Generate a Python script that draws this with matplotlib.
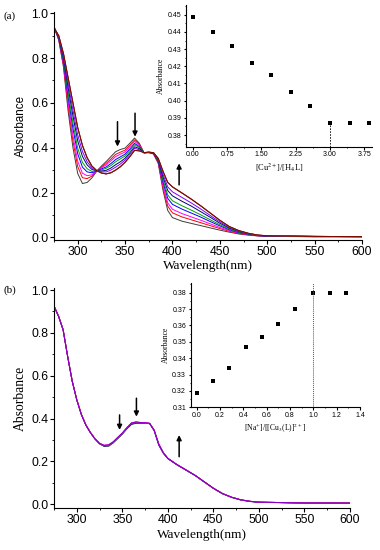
import matplotlib
matplotlib.use("Agg")
import matplotlib.pyplot as plt
from matplotlib.ticker import MultipleLocator, FormatStrFormatter

plt.rcParams['mathtext.fontset'] = 'stix'

# ---- datos ----
wl = [275, 280, 285, 290, 295, 300, 305, 310, 315, 320, 325, 330, 335, 340, 345,
      350, 355, 360, 365, 370, 375, 380, 385, 390, 395, 400, 410, 420, 430, 440,
      450, 460, 470, 480, 490, 500, 550, 600]

# (a) titulacion con Cu2+
spec_a0 = [.940, .880, .760, .560, .400, .285, .240, .245, .265, .295, .318, .338, .360, .382, .392,
           .398, .420, .443, .420, .377, .378, .372, .330, .210, .120, .088, .072, .062, .052, .042,
           .032, .023, .015, .010, .006, .004, .003, .003]
spec_a1 = [.939, .883, .769, .582, .430, .316, .266, .262, .273, .295, .313, .330, .349, .370, .380,
           .389, .411, .435, .415, .377, .378, .373, .333, .223, .139, .109, .091, .078, .065, .052,
           .039, .027, .017, .011, .007, .004, .003, .003]
spec_a2 = [.939, .885, .776, .600, .454, .340, .286, .275, .279, .296, .310, .323, .341, .360, .371,
           .381, .404, .428, .411, .377, .379, .374, .336, .233, .154, .125, .106, .091, .076, .060,
           .044, .030, .019, .012, .007, .005, .003, .003]
spec_a3 = [.938, .889, .786, .625, .486, .373, .313, .292, .288, .296, .305, .314, .329, .347, .359,
           .371, .394, .419, .405, .377, .379, .375, .339, .247, .174, .147, .126, .108, .090, .070,
           .051, .034, .021, .013, .008, .005, .003, .003]
spec_a4 = [.937, .891, .793, .643, .510, .398, .334, .306, .294, .297, .301, .308, .320, .337, .350,
           .363, .387, .413, .401, .378, .379, .375, .342, .257, .189, .163, .141, .121, .100, .078,
           .056, .037, .023, .014, .008, .006, .004, .003]
spec_a5 = [.936, .894, .803, .667, .542, .431, .361, .323, .303, .297, .296, .299, .309, .324, .337,
           .353, .377, .404, .396, .378, .379, .376, .346, .270, .209, .185, .161, .139, .114, .089,
           .063, .041, .026, .016, .009, .006, .004, .003]
spec_a6 = [.936, .897, .810, .686, .568, .457, .383, .337, .310, .298, .292, .292, .300, .313, .327,
           .345, .370, .397, .391, .378, .380, .377, .348, .281, .225, .203, .178, .153, .126, .097,
           .069, .044, .028, .017, .009, .007, .004, .003]
spec_a7 = [.935, .900, .820, .710, .600, .490, .410, .355, .318, .298, .287, .283, .288, .300, .315,
           .335, .360, .388, .386, .378, .380, .378, .352, .295, .245, .225, .198, .170, .140, .108,
           .076, .048, .030, .018, .010, .007, .004, .003]
spectra_a = [spec_a0, spec_a1, spec_a2, spec_a3, spec_a4, spec_a5, spec_a6, spec_a7, spec_a7, spec_a7]
colors_a = ['#3c3c3c', '#ff0000', '#ff00ff', '#0000ff', '#00a000', '#000080',
            '#8000ff', '#a000a0', '#808000', '#800000']

ratio_cu = [0, 0.43, 0.86, 1.29, 1.71, 2.14, 2.57, 3.00, 3.43, 3.86]
abs_cu = [0.449, 0.440, 0.432, 0.422, 0.415, 0.405, 0.397, 0.387, 0.387, 0.387]

# (b) titulacion con Na+
spec_b0 = [.925, .878, .815, .690, .575, .488, .420, .370, .335, .305, .282, .270, .271, .286, .306,
           .327, .352, .372, .378, .378, .378, .376, .345, .282, .241, .214, .185, .160, .134, .104,
           .075, .050, .033, .021, .014, .010, .006, .006]
spec_b1 = [.926, .879, .816, .691, .576, .489, .421, .371, .336, .306, .284, .274, .276, .290, .310,
           .331, .356, .378, .383, .381, .380, .378, .346, .280, .240, .214, .185, .160, .135, .105,
           .075, .050, .033, .021, .014, .010, .006, .006]
spec_b2 = [.925, .877, .814, .689, .574, .487, .419, .369, .334, .305, .283, .272, .274, .288, .309,
           .329, .354, .375, .380, .379, .379, .377, .343, .276, .238, .213, .184, .159, .134, .104,
           .074, .049, .032, .020, .013, .009, .006, .005]
spec_b3 = [.925, .878, .815, .690, .575, .488, .420, .370, .335, .305, .283, .273, .275, .289, .309,
           .330, .355, .377, .382, .380, .379, .377, .345, .281, .241, .214, .185, .160, .135, .105,
           .075, .050, .033, .021, .014, .010, .006, .006]
spec_b4 = [.925, .878, .815, .690, .575, .488, .420, .370, .335, .306, .285, .276, .278, .292, .313,
           .333, .358, .380, .385, .382, .381, .378, .346, .281, .241, .215, .186, .161, .135, .105,
           .075, .050, .033, .021, .014, .010, .006, .006]
spec_b5 = [.924, .877, .814, .689, .574, .487, .419, .369, .334, .305, .284, .275, .277, .291, .312,
           .332, .357, .379, .384, .381, .380, .378, .345, .280, .240, .214, .185, .160, .135, .105,
           .075, .050, .033, .021, .014, .010, .006, .006]
spectra_b = [spec_b0, spec_b1, spec_b2, spec_b3, spec_b4, spec_b5]
colors_b = ['#3c3c3c', '#ff0000', '#0000ff', '#808000', '#ff00ff', '#8000c0']

ratio_na = [0, 0.14, 0.28, 0.42, 0.56, 0.70, 0.84, 1.00, 1.14, 1.28]
abs_na = [0.319, 0.326, 0.334, 0.347, 0.353, 0.361, 0.370, 0.380, 0.380, 0.380]

SANS = 'Liberation Sans'
SERIF = 'Liberation Serif'

fig = plt.figure(figsize=(3.8, 5.5), dpi=100)


def estilo_origin(ax, fs, major_len, minor_len):
    ax.spines['top'].set_visible(False)
    ax.spines['right'].set_visible(False)
    for s in ('left', 'bottom'):
        ax.spines[s].set_linewidth(0.8)
    ax.tick_params(which='major', direction='out', length=major_len, width=0.8,
                   labelsize=fs, pad=1.5)
    ax.tick_params(which='minor', direction='out', length=minor_len, width=0.6)
    for lab in ax.get_xticklabels() + ax.get_yticklabels():
        lab.set_family(SANS)


def panel_principal(rect, spectra, colors, ylim, ylab_family, ylab_size):
    ax = fig.add_axes(rect)
    for sp, c in zip(spectra, colors):
        ax.plot(wl, sp, color=c, lw=0.7)
    ax.set_xlim(275, 600)
    ax.set_ylim(*ylim)
    ax.xaxis.set_major_locator(MultipleLocator(50))
    ax.xaxis.set_minor_locator(MultipleLocator(25))
    ax.yaxis.set_major_locator(MultipleLocator(0.2))
    ax.yaxis.set_minor_locator(MultipleLocator(0.1))
    ax.yaxis.set_major_formatter(FormatStrFormatter('%.1f'))
    estilo_origin(ax, 8.8, 2.6, 1.5)
    ax.set_ylabel('Absorbance', family=ylab_family, fontsize=ylab_size, labelpad=3)
    ax.set_xlabel('Wavelength(nm)', family=SERIF, fontsize=9.6, labelpad=2)
    return ax


def flecha(ax, x, y0, y1):
    ax.annotate('', xy=(x, y1), xytext=(x, y0),
                arrowprops=dict(arrowstyle='-|>', color='k', lw=1.1,
                                mutation_scale=7, shrinkA=0, shrinkB=0))


# ---------------- (a) ----------------
ax_a = panel_principal([54 / 380, 1 - 240 / 550, 308 / 380, 228.3 / 550],
                       spectra_a, colors_a, (-0.012, 1.007), SANS, 8.4)
flecha(ax_a, 342, 0.516, 0.405)
flecha(ax_a, 360.5, 0.554, 0.449)
flecha(ax_a, 407, 0.234, 0.33)
fig.text(3 / 380, 1 - 16 / 550, '(a)', family=SERIF, fontsize=8, va='center')

ins_a = fig.add_axes([186 / 380, 1 - 146.7 / 550, 186 / 380, 141.7 / 550])
ins_a.plot(ratio_cu, abs_cu, 's', color='k', ms=2.4, mew=0)
ins_a.plot([ratio_cu[7], ratio_cu[7]], [0.3732, abs_cu[7]], color='k', lw=0.6, ls=(0, (2, 1.5)))
ins_a.set_xlim(-0.15, 3.92)
ins_a.set_ylim(0.3732, 0.4557)
ins_a.xaxis.set_major_locator(MultipleLocator(0.75))
ins_a.xaxis.set_minor_locator(MultipleLocator(0.375))
ins_a.xaxis.set_major_formatter(FormatStrFormatter('%.2f'))
ins_a.yaxis.set_major_locator(MultipleLocator(0.01))
ins_a.yaxis.set_minor_locator(MultipleLocator(0.005))
ins_a.yaxis.set_major_formatter(FormatStrFormatter('%.2f'))
ins_a.patch.set_alpha(0)
estilo_origin(ins_a, 5, 1.8, 1.0)
ins_a.set_xlabel(r'[Cu$^{2+}$]/[H$_4$L]', family=SERIF, fontsize=6, labelpad=2)
ins_a.set_ylabel('Absorbance', family=SERIF, fontsize=5.5, labelpad=2)

# ---------------- (b) ----------------
ax_b = panel_principal([54 / 380, 1 - 508.3 / 550, 296 / 380, 220 / 550],
                       spectra_b, colors_b, (-0.0187, 1.008), SERIF, 9.8)
flecha(ax_b, 347, 0.417, 0.347)
flecha(ax_b, 365.5, 0.495, 0.409)
flecha(ax_b, 412.4, 0.222, 0.323)
fig.text(3 / 380, 1 - 290 / 550, '(b)', family=SERIF, fontsize=8, va='center')

ins_b = fig.add_axes([190.7 / 380, 1 - 407.3 / 550, 169.3 / 380, 124 / 550])
ins_b.plot(ratio_na, abs_na, 's', color='k', ms=2.4, mew=0)
ins_b.axvline(ratio_na[7], color='#555555', lw=0.7, ls=(0, (1, 1)))
ins_b.set_xlim(-0.05, 1.4)
ins_b.set_ylim(0.31, 0.3857)
ins_b.xaxis.set_major_locator(MultipleLocator(0.2))
ins_b.xaxis.set_minor_locator(MultipleLocator(0.1))
ins_b.xaxis.set_major_formatter(FormatStrFormatter('%.1f'))
ins_b.yaxis.set_major_locator(MultipleLocator(0.01))
ins_b.yaxis.set_minor_locator(MultipleLocator(0.005))
ins_b.yaxis.set_major_formatter(FormatStrFormatter('%.2f'))
ins_b.patch.set_alpha(0)
estilo_origin(ins_b, 5, 1.8, 1.0)
ins_b.set_xlabel(r'[Na$^{+}$]/[[Cu$_3$(L)]$^{2+}$]', family=SERIF, fontsize=5.5, labelpad=2)
ins_b.set_ylabel('Absorbance', family=SERIF, fontsize=5.5, labelpad=2)

fig.savefig('out.png', dpi=100)
